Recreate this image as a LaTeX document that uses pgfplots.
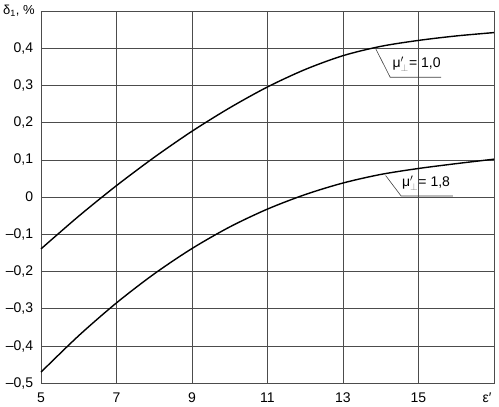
\documentclass[border=0pt]{standalone}
\usepackage{fontspec}
\setmainfont{Liberation Sans}
\usepackage{pgfplots}
\pgfplotsset{compat=1.18}
\begin{document}
\fontsize{14}{17}\selectfont
\begin{tikzpicture}
\begin{axis}[
  scale only axis, width=453pt, height=372.3pt,
  xmin=5, xmax=17, ymin=-0.5, ymax=0.5,
  xtick={5,7,9,11,13,15,17},
  xticklabels={5,7,9,11,13,15,{\hspace*{-14pt}ε′}},
  ytick={-0.5,-0.4,-0.3,-0.2,-0.1,0,0.1,0.2,0.3,0.4,0.5},
  yticklabels={{–0,5},{–0,4},{–0,3},{–0,2},{–0,1},{0},{0,1},{0,2},{0,3},{0,4},{}},
  grid=major,
  major grid style={draw=black!70, line width=0.8pt},
  axis line style={draw=black!70, line width=0.8pt},
  major tick length=0pt,
  tick label style={font=\fontsize{14}{17}\selectfont},
  yticklabel style={xshift=-3pt},
  xticklabel style={yshift=-5pt},
  clip=false,
]
\addplot[black, line width=1.4pt, smooth] coordinates {
  (5,-0.139) (6,-0.051) (7,0.031) (8,0.107) (9,0.177) (10,0.240) (11,0.296)
  (12,0.343) (13,0.380) (14,0.405) (15,0.421) (16,0.433) (17,0.442)};
\addplot[black, line width=1.4pt, smooth] coordinates {
  (5,-0.470) (6,-0.372) (7,-0.284) (8,-0.206) (9,-0.138) (10,-0.080) (11,-0.032)
  (12,0.007) (13,0.038) (14,0.061) (15,0.077) (16,0.090) (17,0.102)};
\draw[black!75, line width=0.6pt] (axis cs:13.86,0.400) -- (axis cs:14.25,0.322) -- (axis cs:15.6,0.322);
\node at (axis cs:14.95,0.358) {μ$'_{\color{black!50}\perp}$= 1,0};
\draw[black!75, line width=0.6pt] (axis cs:14.13,0.058) -- (axis cs:14.54,0.003) -- (axis cs:15.91,0.003);
\node at (axis cs:15.2,0.038) {μ$'_{\color{black!50}\perp}$= 1,8};
\node[anchor=west, inner sep=0pt, font=\fontsize{13}{15}\selectfont] at (rel axis cs:0,1) [xshift=-38pt] {δ\textsubscript{1}, \%};
\end{axis}
\pgfresetboundingbox
\path[use as bounding box] (current axis.south west) ++(-41pt,-23.7pt) rectangle ++(499pt,407pt);
\end{tikzpicture}
\end{document}
